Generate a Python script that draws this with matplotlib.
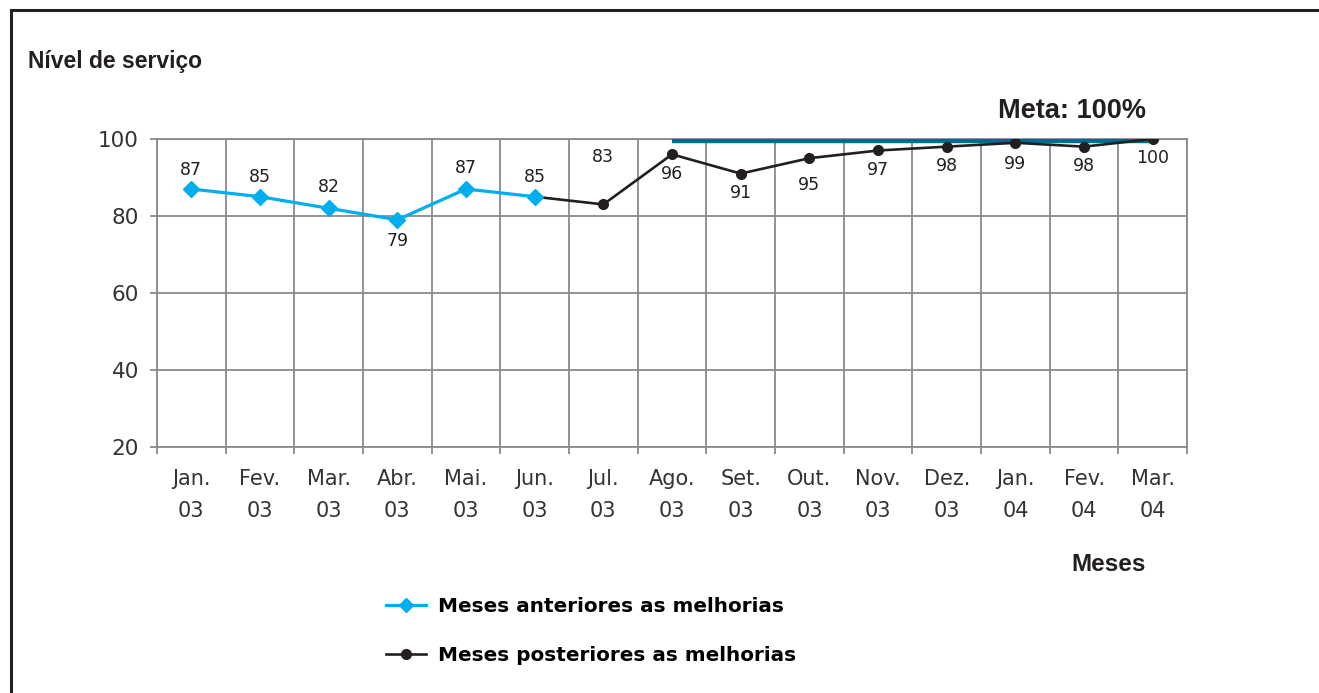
import numpy as np
import matplotlib
matplotlib.use("Agg")
import matplotlib.pyplot as plt
from matplotlib.patches import Rectangle
from matplotlib.lines import Line2D

meses = ["Jan.\n03", "Fev.\n03", "Mar.\n03", "Abr.\n03", "Mai.\n03", "Jun.\n03", "Jul.\n03",
         "Ago.\n03", "Set.\n03", "Out.\n03", "Nov.\n03", "Dez.\n03", "Jan.\n04", "Fev.\n04", "Mar.\n04"]
antes_idx = [0, 1, 2, 3, 4, 5]
antes_val = [87, 85, 82, 79, 87, 85]
depois_idx = [5, 6, 7, 8, 9, 10, 11, 12, 13, 14]
depois_val = [85, 83, 96, 91, 95, 97, 98, 99, 98, 100]
meta = 100
meta_idx = [7, 14]
yticks = [20, 40, 60, 80, 100]

# deslocamento dos rotulos (pontos)
off_antes = [14, 14, 15, -15, 15, 14]
off_depois = [34, -14, -14, -19, -14, -14, -15, -14, -14]

azul = "#00aeef"
preto = "#231f20"
cinza = "#8a8a8a"

fig = plt.figure(figsize=(13.19, 6.93), dpi=100)
ax = fig.add_axes([0.119, 0.355, 0.781, 0.4445])

x = np.arange(len(meses))
ax.plot(meta_idx, [meta - 0.45] * 2, color="#006a93", lw=3.2, solid_capstyle="butt", zorder=3)
ax.plot(depois_idx, depois_val, color=preto, lw=1.9, marker="o", ms=7, zorder=4)
ax.plot(antes_idx, antes_val, color=azul, lw=2.3, marker="D", ms=8, zorder=5)

for i, v, o in zip(antes_idx, antes_val, off_antes):
    ax.annotate(str(v), (i, v), xytext=(0, o), textcoords="offset points",
                ha="center", va="center", fontsize=12.5, color=preto)
for i, v, o in zip(depois_idx[1:], depois_val[1:], off_depois):
    ax.annotate(str(v), (i, v), xytext=(0, o), textcoords="offset points",
                ha="center", va="center", fontsize=12.5, color=preto)

ax.set_xlim(-0.5, len(meses) - 0.5)
ax.set_ylim(20, 100)
ax.set_yticks(yticks)
ax.set_xticks(x)
ax.set_xticklabels(meses, linespacing=1.75)
ax.set_xticks(np.arange(-0.5, len(meses)), minor=True)
ax.grid(True, which="minor", axis="x", color=cinza, lw=1.3)
ax.grid(True, which="major", axis="y", color=cinza, lw=1.3)
ax.tick_params(axis="x", which="major", length=0, pad=16, labelsize=15, labelcolor="#333333")
ax.tick_params(axis="x", which="minor", length=5, color=cinza, width=1.3)
ax.tick_params(axis="y", length=5, color=cinza, width=1.3, pad=8, labelsize=15.5, labelcolor="#333333")
for s in ax.spines.values():
    s.set_color(cinza)
    s.set_linewidth(1.3)
ax.set_axisbelow(True)

fig.text(0.021, 0.911, "Nível de serviço", fontsize=16.5, fontweight="bold",
         family="Liberation Sans", color=preto, va="center")
fig.text(0.869, 0.185, "Meses", fontsize=17.5, fontweight="bold",
         family="Liberation Sans", color=preto, va="center", ha="right")
fig.text(0.869, 0.84, "Meta: 100%", fontsize=19.5, fontweight="bold",
         family=["Liberation Sans Narrow", "Liberation Sans"], color=preto, va="center", ha="right")

handles = [Line2D([], [], color=azul, lw=2.3, marker="D", ms=7),
           Line2D([], [], color=preto, lw=1.9, marker="o", ms=7)]
fig.legend(handles, ["Meses anteriores as melhorias", "Meses posteriores as melhorias"],
           loc="center left", bbox_to_anchor=(0.279, 0.089), frameon=False,
           handlelength=2.0, handletextpad=0.6, labelspacing=1.5,
           prop={"weight": "bold", "size": 14.4})

fig.patches.append(Rectangle((0.0085, -0.1), 1.1, 1.085, transform=fig.transFigure,
                             fill=False, edgecolor="#222222", lw=2.2))

fig.savefig("out.png", dpi=100)
